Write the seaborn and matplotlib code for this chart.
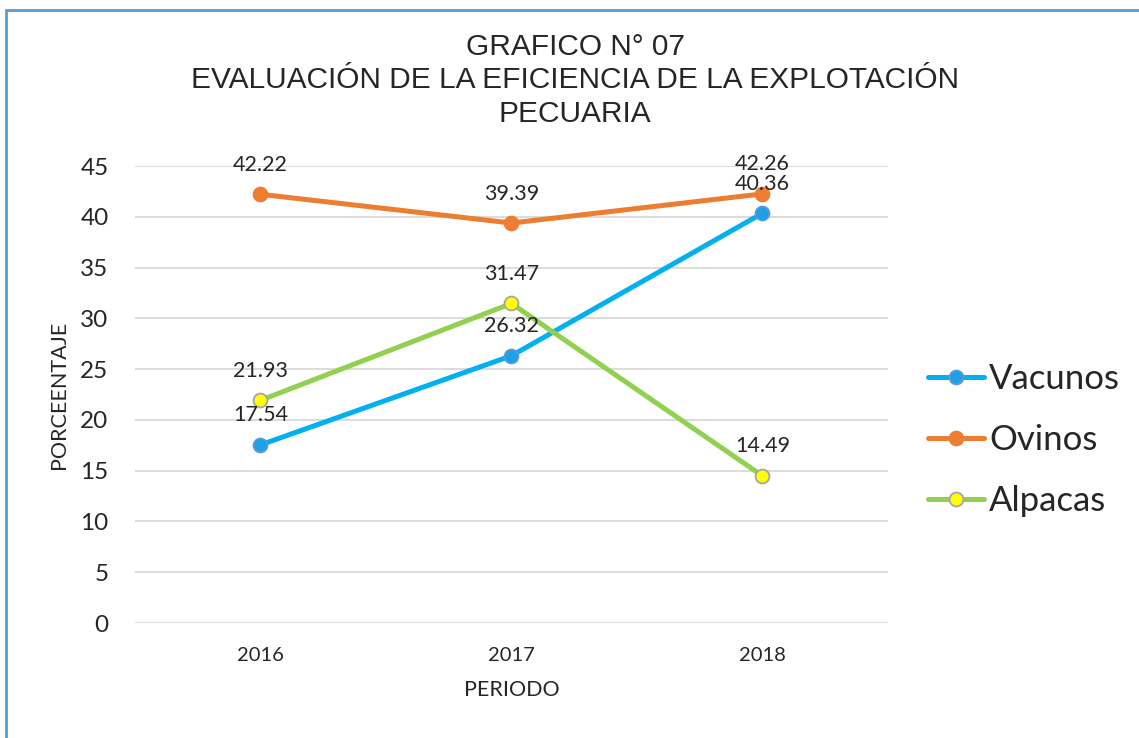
import pandas as pd
import numpy as np
import matplotlib
matplotlib.use("Agg")
import matplotlib.pyplot as plt
import seaborn as sns
from matplotlib.patches import Rectangle

# ==============================
# DATOS
# ==============================
periodos = ["2016", "2017", "2018"]
vacunos = [17.54, 26.32, 40.36]
ovinos = [42.22, 39.39, 42.26]
alpacas = [21.93, 31.47, 14.49]

series = ["Vacunos", "Ovinos", "Alpacas"]
valores = [vacunos, ovinos, alpacas]

# ==============================
# ESTILOS
# ==============================
line_colors = {"Vacunos": "#00B0F0", "Ovinos": "#ED7D31", "Alpacas": "#92D050"}
marker_face = {"Vacunos": "#1E9FE6", "Ovinos": "#ED7D31", "Alpacas": "#FFFF00"}
marker_edge = {"Vacunos": "#5B9BD5", "Ovinos": "#ED7D31", "Alpacas": "#A5A5A5"}

df = pd.DataFrame({
    "periodo": periodos * len(series),
    "serie": np.repeat(series, len(periodos)),
    "valor": vacunos + ovinos + alpacas,
})

sns.set_style("white")
plt.rcParams['font.family'] = ['Liberation Sans', 'DejaVu Sans']

fig = plt.figure(figsize=(11.39, 7.38), dpi=100)
ax = fig.add_axes([0.1185, 0.1558, 0.6611, 0.6192])

for s in series:
    sub = df[df["serie"] == s]
    sns.lineplot(data=sub, x="periodo", y="valor", ax=ax, color=line_colors[s],
                 linewidth=3.6, marker="o", markersize=10,
                 markerfacecolor=marker_face[s], markeredgecolor=marker_edge[s],
                 markeredgewidth=1.3, label=s, sort=False)
    for i, v in enumerate(sub["valor"]):
        ax.annotate(f"{v:.2f}", (i, v), xytext=(0, 14), textcoords="offset points",
                    ha="center", va="bottom", fontsize=15.5, family="Lato")

# ==============================
# EJES
# ==============================
ax.set_xlim(-0.5, 2.5)
ax.set_ylim(0, 45)
ax.set_yticks(range(0, 50, 5))
ax.yaxis.grid(True, color="#D9D9D9", linewidth=1.3)
ax.xaxis.grid(False)
for sp in ax.spines.values():
    sp.set_visible(False)
ax.tick_params(axis="both", length=0)
ax.tick_params(axis="y", labelsize=17.5, pad=19)
ax.tick_params(axis="x", labelsize=14.5, pad=17)
for lab in ax.get_yticklabels() + ax.get_xticklabels():
    lab.set_family("Lato")

ax.set_xlabel("PERIODO", fontsize=15.5, family="Lato", labelpad=12)
ax.set_ylabel("PORCEENTAJE", fontsize=15.5, family="Lato", labelpad=8)

fig.text(0.505, 0.936, "GRAFICO N° 07", ha="center", va="center", fontsize=21.5)
fig.text(0.505, 0.891, "EVALUACIÓN DE LA EFICIENCIA DE LA EXPLOTACIÓN",
         ha="center", va="center", fontsize=21.5)
fig.text(0.505, 0.845, "PECUARIA", ha="center", va="center", fontsize=21.5)

leg = ax.legend(loc="center left", bbox_to_anchor=(1.012, 0.4), frameon=False,
                prop={"family": "Lato", "size": 25}, handlelength=1.6,
                handletextpad=0.15, labelspacing=0.83)

# marco del grafico
fig.patches.append(Rectangle((0.0055, -0.1), 1.2, 1.087, transform=fig.transFigure,
                             fill=False, edgecolor="#5B9BD5", linewidth=2))

fig.savefig("out.png", dpi=100)
